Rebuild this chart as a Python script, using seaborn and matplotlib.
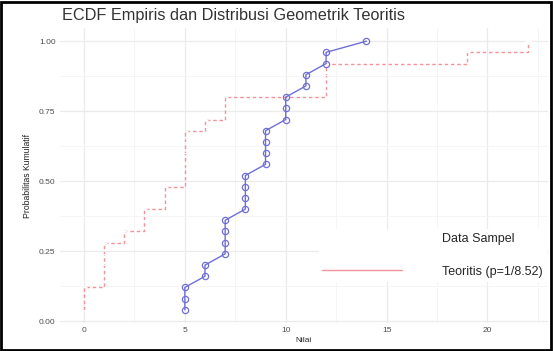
import numpy as np
import pandas as pd
import matplotlib
matplotlib.use("Agg")
import matplotlib.pyplot as plt
from matplotlib.lines import Line2D
import seaborn as sns

# Empirical sample (sorted) and its ECDF
sample_x = [5, 5, 5, 6, 6, 7, 7, 7, 7, 8, 8, 8, 8, 9, 9, 9, 9, 10, 10, 10, 11, 11, 12, 12, 14]
sample_ecdf = [0.04, 0.08, 0.12, 0.16, 0.20, 0.24, 0.28, 0.32, 0.36, 0.40, 0.44, 0.48, 0.52,
               0.56, 0.60, 0.64, 0.68, 0.72, 0.76, 0.80, 0.84, 0.88, 0.92, 0.96, 1.00]

# Theoretical geometric (simulated) values and ECDF
theory_x = [0, 0, 0, 1, 1, 1, 1, 2, 3, 3, 4, 4, 5, 5, 5, 5, 5, 6, 7, 7, 12, 12, 12, 19, 22]
theory_ecdf = [0.04, 0.08, 0.12, 0.16, 0.20, 0.24, 0.28, 0.32, 0.36, 0.40, 0.44, 0.48, 0.52,
               0.56, 0.60, 0.64, 0.68, 0.72, 0.76, 0.80, 0.84, 0.88, 0.92, 0.96, 1.00]

title = "ECDF Empiris dan Distribusi Geometrik Teoritis"
xlabel = "Nilai"
ylabel = "Probabilitas Kumulatif"
label_sample = "Data Sampel"
label_theory = "Teoritis (p=1/8.52)"
xticks = [0, 5, 10, 15, 20]
yticks = [0.00, 0.25, 0.50, 0.75, 1.00]

df_s = pd.DataFrame({"x": sample_x, "y": sample_ecdf})
df_t = pd.DataFrame({"x": theory_x, "y": theory_ecdf})

sns.set_theme(style="white")
plt.rcParams["font.family"] = ["Liberation Sans", "DejaVu Sans"]

fig = plt.figure(figsize=(5.53, 3.51), dpi=100)
ax = fig.add_axes([0.108, 0.079, 0.883, 0.842])

blue = "#6F6FD6"
red = "#F4939A"

sns.lineplot(data=df_t, x="x", y="y", ax=ax, color=red, drawstyle="steps-post",
             linestyle=(0, (2.5, 2)), linewidth=1.0, estimator=None, sort=False,
             marker="_", markersize=4, markeredgewidth=0.8)
sns.lineplot(data=df_s, x="x", y="y", ax=ax, color=blue, linewidth=1.0,
             estimator=None, sort=False, marker="o", markersize=4.5,
             markerfacecolor="none", markeredgecolor=blue, markeredgewidth=0.9)

ax.set_xlim(-1.2, 23.0)
ax.set_ylim(-0.008, 1.048)
ax.set_xticks(xticks)
ax.set_xticklabels([str(v) for v in xticks])
ax.set_yticks(yticks)
ax.set_yticklabels([f"{v:.2f}" for v in yticks])
ax.set_xticks([2.5, 7.5, 12.5, 17.5, 22.5], minor=True)
ax.set_yticks([0.125, 0.375, 0.625, 0.875], minor=True)
ax.grid(which="major", color="#EBEBEB", linewidth=0.9)
ax.grid(which="minor", color="#F4F4F4", linewidth=0.6)
for s in ax.spines.values():
    s.set_visible(False)
ax.tick_params(axis="both", which="both", length=0, labelsize=6, colors="#4D4D4D", pad=3)
ax.set_xlabel(xlabel, fontsize=6, color="#222222", labelpad=2)
ax.set_ylabel(ylabel, fontsize=6.2, color="#222222", labelpad=5)
fig.text(0.112, 0.955, title, fontsize=11.7, color="#333333", ha="left", va="center")

handles = [Line2D([], [], color="none"),
           Line2D([], [], color=red, linewidth=1.0)]
leg = ax.legend(handles, [label_sample, label_theory], loc="lower right",
                bbox_to_anchor=(1.01, 0.12), fontsize=9, handlelength=6.4,
                handletextpad=3.2, labelspacing=1.7, frameon=True,
                facecolor="white", edgecolor="none", framealpha=1.0,
                borderpad=0.3)

# figure border
fig.patches.append(plt.Rectangle((0.002, 0.003), 0.995, 0.992, transform=fig.transFigure,
                                 fill=False, edgecolor="black", linewidth=2))

fig.savefig("out.png", dpi=100)
